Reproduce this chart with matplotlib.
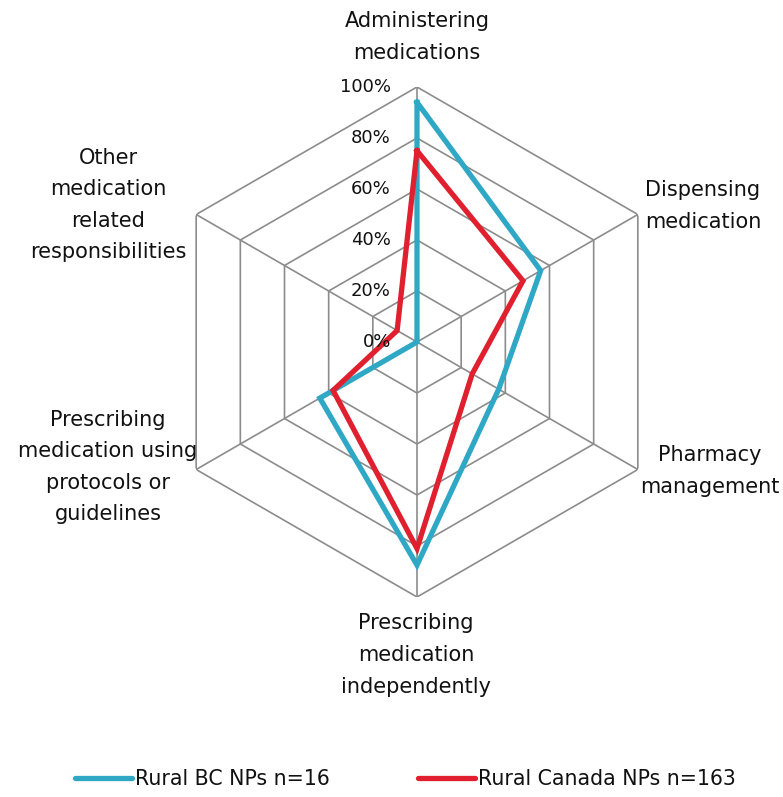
import numpy as np
import matplotlib
matplotlib.use("Agg")
import matplotlib.pyplot as plt

categories = ["Administering\nmedications", "Dispensing\nmedication", "Pharmacy\nmanagement",
              "Prescribing\nmedication\nindependently",
              "Prescribing\nmedication using\nprotocols or\nguidelines",
              "Other\nmedication\nrelated\nresponsibilities"]
bc_values = [0.94, 0.56, 0.37, 0.875, 0.44, 0.0]
canada_values = [0.75, 0.48, 0.25, 0.81, 0.38, 0.09]
tick_values = [0.0, 0.2, 0.4, 0.6, 0.8, 1.0]
tick_labels = ["0%", "20%", "40%", "60%", "80%", "100%"]
series_names = ["Rural BC NPs n=16", "Rural Canada NPs n=163"]

W, H = 783, 797
fig = plt.figure(figsize=(W / 100, H / 100), dpi=100)
cx, cy, R = 417, 342, 255
ax = fig.add_axes([(cx - R) / W, (H - cy - R) / H, 2 * R / W, 2 * R / H], projection="polar")
ax.set_theta_offset(np.pi / 2)
ax.set_theta_direction(-1)
ax.set_ylim(0, 1)
ax.grid(False)
ax.spines["polar"].set_visible(False)
ax.set_xticks([])
ax.set_yticks([])
ax.patch.set_alpha(0)

n = len(categories)
angles = np.arange(n) * 2 * np.pi / n
closed = np.append(angles, angles[0])
grid_color = "#8c8c8c"
for t in tick_values[1:]:
    ax.plot(closed, [t] * (n + 1), color=grid_color, lw=1.2, zorder=1)
for a in angles:
    ax.plot([a, a], [0, 1], color=grid_color, lw=1.2, zorder=1)

colors = ["#2fa8c5", "#e0202e"]
lines = []
for vals, c, name in zip([bc_values, canada_values], colors, series_names):
    v = np.append(vals, vals[0])
    ln, = ax.plot(closed, v, color=c, lw=3.8, zorder=3, label=name, solid_joinstyle="miter")
    lines.append(ln)

for t, lab in zip(tick_values, tick_labels):
    ax.annotate(lab, xy=(0, t), xytext=(-26, 0), textcoords="offset pixels",
                ha="right", va="center", fontsize=13, color="#111111")

fs = 15
label_pos = [(417, 37, "center"), (703, 206, "center"), (710, 471, "center"),
             (416, 655, "center"), (108, 467, "center"), (108, 205, "center")]
for cat, (x, y, ha) in zip(categories, label_pos):
    fig.text(x / W, 1 - y / H, cat, ha=ha, va="center", fontsize=fs,
             linespacing=1.72, color="#111111")

leg_font = {"family": "DejaVu Sans", "size": 14.8}
leg_x = [75, 418]
for ln, x in zip(lines, leg_x):
    lg = fig.legend(handles=[ln], loc="center left", bbox_to_anchor=(x / W, 1 - 779 / H),
                    frameon=False, prop=leg_font, handlelength=2.75,
                    handletextpad=0.15, borderpad=0, borderaxespad=0)
    lg.get_lines()[0].set_solid_capstyle("round")
    for txt in lg.get_texts():
        txt.set_color("#111111")

fig.savefig("out.png", dpi=100)
